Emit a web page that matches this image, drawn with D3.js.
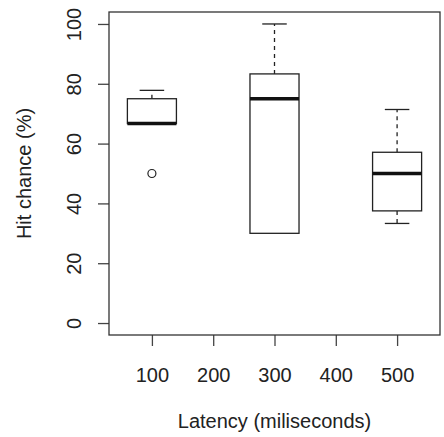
<!DOCTYPE html>
<html>
<head>
<meta charset="utf-8"/>
<title>Hit chance by latency</title>
<script src="https://cdn.jsdelivr.net/npm/d3@7"></script>
<style>
  body { margin: 0; background: #fff; }
  text { font-family: "Liberation Sans", Arial, sans-serif; fill: #222; }
</style>
</head>
<body>
<div id="chart"></div>
<script>
// box stats (five numbers per latency group)
var latencies = [100, 300, 500];
var lowWhisker = [66.7, 30, 33.3];
var q1 = [66.7, 30, 37.5];
var median = [66.7, 75, 50];
var q3 = [75, 83.3, 57.1];
var highWhisker = [77.8, 100, 71.4];
var outliers = [[50], [], []];

var xTicks = [100, 200, 300, 400, 500];
var yTicks = [0, 20, 40, 60, 80, 100];

var width = 444, height = 437;
var plot = {left: 109, right: 440, top: 12, bottom: 335};
var fontSize = "20px";

var svg = d3.select("#chart")
    .append("svg")
    .attr("width", width)
    .attr("height", height);

svg.append("rect")
    .attr("width", width)
    .attr("height", height)
    .attr("fill", "#fff");

// R style ranges, 4% padding around the data range
var x = d3.scaleLinear().domain([30, 570]).range([plot.left, plot.right]);
var y = d3.scaleLinear().domain([-4, 104]).range([plot.bottom, plot.top]);

var boxHalf = 40, capHalf = 20;
var ink = "#222";

// axes
var xAxis = svg.append("g")
    .attr("transform", "translate(0," + plot.bottom + ")")
    .call(d3.axisBottom(x).tickValues(xTicks).tickSize(11).tickSizeOuter(0));
var yAxis = svg.append("g")
    .attr("transform", "translate(" + plot.left + ",0)")
    .call(d3.axisLeft(y).tickValues(yTicks).tickSize(11).tickSizeOuter(0));

[xAxis, yAxis].forEach(function(a) {
    a.select(".domain").remove();
    a.selectAll(".tick line").attr("stroke", "#444").attr("stroke-width", 1.3);
    a.selectAll("text")
        .style("font-family", "'Liberation Sans', Arial, sans-serif")
        .style("font-size", fontSize)
        .attr("fill", "#222");
});

xAxis.selectAll(".tick text").attr("y", null).attr("dy", null)
    .attr("transform", "translate(0,47)");

yAxis.selectAll(".tick text")
    .attr("x", null).attr("dy", null)
    .attr("text-anchor", "middle")
    .attr("transform", "translate(-28,0) rotate(-90)");

// frame
svg.append("rect")
    .attr("x", plot.left)
    .attr("y", plot.top)
    .attr("width", plot.right - plot.left)
    .attr("height", plot.bottom - plot.top)
    .attr("fill", "none")
    .attr("stroke", "#333")
    .attr("stroke-width", 1.3);

// boxes
var groups = svg.selectAll(".box")
    .data(latencies)
    .enter()
    .append("g")
    .attr("class", "box");

groups.each(function(lat, i) {
    var g = d3.select(this);
    var cx = x(lat);
    // whiskers
    [[q3[i], highWhisker[i]], [q1[i], lowWhisker[i]]].forEach(function(w) {
        if (w[0] == w[1]) return;
        g.append("line")
            .attr("x1", cx).attr("x2", cx)
            .attr("y1", y(w[0])).attr("y2", y(w[1]))
            .attr("stroke", ink).attr("stroke-width", 1.3)
            .attr("stroke-dasharray", "4,4");
        g.append("line")
            .attr("x1", x(lat - capHalf)).attr("x2", x(lat + capHalf))
            .attr("y1", y(w[1])).attr("y2", y(w[1]))
            .attr("stroke", ink).attr("stroke-width", 1.3);
    });
    g.append("rect")
        .attr("x", x(lat - boxHalf))
        .attr("y", y(q3[i]))
        .attr("width", x(lat + boxHalf) - x(lat - boxHalf))
        .attr("height", y(q1[i]) - y(q3[i]))
        .attr("fill", "#fff")
        .attr("stroke", ink)
        .attr("stroke-width", 1.3);
    g.append("line")
        .attr("x1", x(lat - boxHalf)).attr("x2", x(lat + boxHalf))
        .attr("y1", y(median[i])).attr("y2", y(median[i]))
        .attr("stroke", "#111").attr("stroke-width", 3.5);
    outliers[i].forEach(function(v) {
        g.append("circle")
            .attr("cx", cx).attr("cy", y(v)).attr("r", 4)
            .attr("fill", "none").attr("stroke", ink).attr("stroke-width", 1.2);
    });
});

// axis titles
svg.append("text")
    .attr("x", (plot.left + plot.right) / 2)
    .attr("y", 428)
    .attr("text-anchor", "middle")
    .style("font-size", fontSize)
    .text("Latency (miliseconds)");

svg.append("text")
    .attr("transform", "translate(31," + y(50) + ") rotate(-90)")
    .attr("text-anchor", "middle")
    .style("font-size", fontSize)
    .text("Hit chance (%)");
</script>
</body>
</html>
